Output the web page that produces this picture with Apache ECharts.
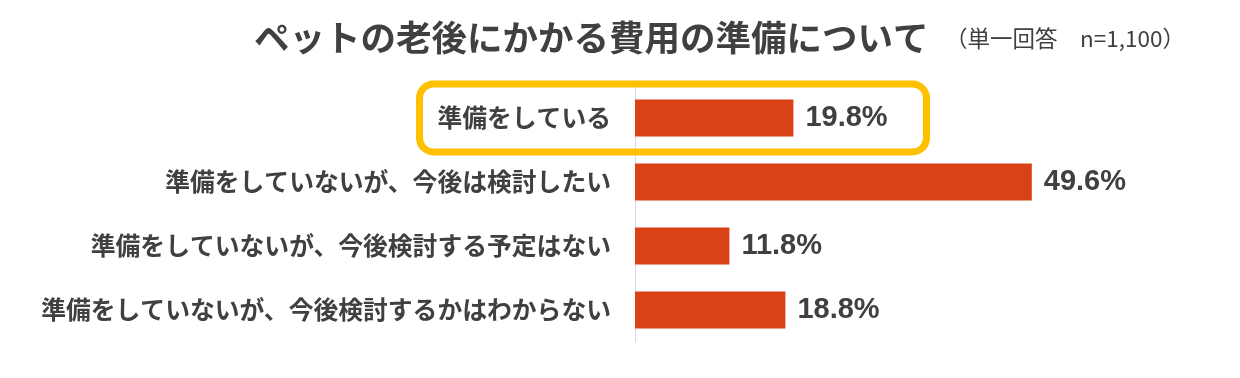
<!DOCTYPE html>
<html>
<head>
<meta charset="utf-8">
<script src="https://cdn.jsdelivr.net/npm/echarts@6/dist/echarts.min.js"></script>
<style>
  html, body { margin: 0; padding: 0; background: #fff; }
  #chart { width: 1240px; height: 378px; }
</style>
</head>
<body>
<div id="chart"></div>
<script>
const categories = [
  '準備をしている',
  '準備をしていないが、今後は検討したい',
  '準備をしていないが、今後検討する予定はない',
  '準備をしていないが、今後検討するかはわからない',
];
const values = [19.8, 49.6, 11.8, 18.8];
const titleText = 'ペットの老後にかかる費用の準備について';
const subText = '（単一回答　n=1,100）';

const font = '"Noto Sans CJK JP", "Noto Sans", sans-serif';
const textColor = '#404040';

const chart = echarts.init(document.getElementById('chart'), null, { renderer: 'canvas' });

chart.setOption({
  animation: false,
  textStyle: { fontFamily: font },
  title: [
    {
      text: titleText,
      left: 249,
      top: 15,
      textStyle: { fontSize: 35.5, fontWeight: 'bold', color: textColor, fontFamily: font },
    },
    {
      text: subText,
      left: 940,
      top: 22,
      textStyle: { fontSize: 22.5, fontWeight: 'normal', color: textColor, fontFamily: font },
    },
  ],
  grid: {
    left: 635,
    right: 125,
    top: 86,
    bottom: 36,
    containLabel: false,
  },
  xAxis: {
    type: 'value',
    min: 0,
    max: 60,
    show: false,
  },
  yAxis: {
    type: 'category',
    inverse: true,
    data: categories,
    axisLine: { show: true, lineStyle: { color: '#d9d9d9', width: 1 } },
    axisTick: { show: false },
    axisLabel: {
      margin: 24,
      fontSize: 24.8,
      fontWeight: 'bold',
      color: textColor,
      fontFamily: font,
    },
  },
  series: [{
    type: 'bar',
    data: values,
    barWidth: '58%',
    itemStyle: { color: '#D94116' },
    label: {
      show: true,
      position: 'right',
      distance: 12,
      formatter: (p) => p.value.toFixed(1) + '%',
      fontSize: 29,
      fontWeight: 'bold',
      color: textColor,
      fontFamily: '"Liberation Sans", Arial, sans-serif',
    },
  }],
});

// highlight box around the first category, placed from the chart's own scale
const yc = chart.convertToPixel({ yAxisIndex: 0 }, categories[0]);
chart.setOption({
  graphic: [{
    type: 'rect',
    shape: { x: 419.5, y: yc - 34, width: 507, height: 68, r: 14 },
    style: { fill: 'none', stroke: '#FFC000', lineWidth: 7 },
    z: 100,
  }],
});
</script>
</body>
</html>
